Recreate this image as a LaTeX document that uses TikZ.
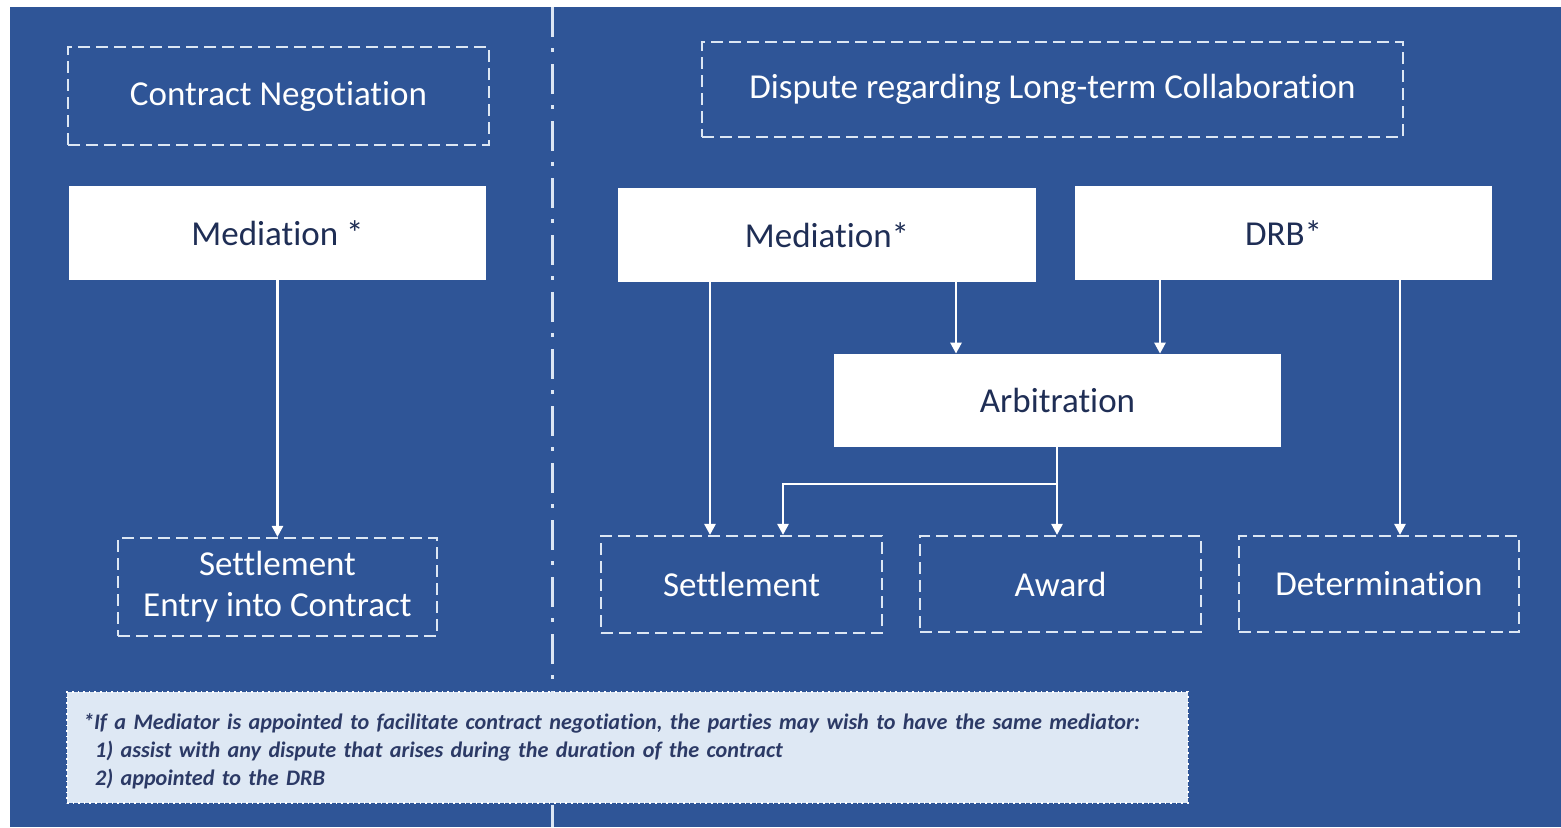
\documentclass[tikz,border=0pt]{standalone}
\usepackage{fontspec}
\setmainfont{Carlito}[Ligatures={NoCommon}]
\usetikzlibrary{arrows.meta}
\definecolor{panel}{HTML}{2F5597}
\definecolor{ink}{HTML}{1F2E55}
\definecolor{pale}{HTML}{DCE6F3}
\definecolor{notefill}{HTML}{DEE8F4}
\definecolor{noteink}{HTML}{2C3A66}

\begin{document}
\begin{tikzpicture}[x=0.5pt,y=-0.5pt,
    outcome/.style={draw=pale,dash pattern=on 6pt off 3pt,line width=1.1pt,text=white,
        font=\fontsize{17.5}{20.5}\selectfont,align=center,inner sep=0pt},
    stage/.style={fill=white,text=ink,font=\fontsize{17.5}{20.5}\selectfont,inner sep=0pt},
    flow/.style={white,line width=1.3pt,-{Triangle[length=5.5pt,width=5.5pt]}},
    note/.style={fill=notefill,draw=white,dotted,line width=0.8pt,text=noteink,align=left,
        font=\fontsize{11.1}{14}\selectfont\bfseries\itshape,inner xsep=8pt,inner ysep=0pt,
        text width=544.5pt,minimum height=55.5pt}]
    \useasboundingbox (0,0) rectangle (1561,827);
    \fill[white] (0,0) rectangle (1561,827);
    \fill[panel] (10,7) rectangle (1561,827);
    \draw[pale,line width=1.5pt,dash pattern=on 15pt off 5.5pt on 2pt off 6pt] (552,7) -- (552,827);

    \node[outcome,minimum width=210.5pt,minimum height=49pt] (neg) at (278.5,96) {Contract Negotiation};
    \node[stage,minimum width=208.5pt,minimum height=47pt] (medL) at (277.5,233) {Mediation *};
    \node[outcome,minimum width=159.5pt,minimum height=49pt] (setL) at (277.5,587) {Settlement\\Entry into Contract};

    \node[outcome,minimum width=350.5pt,minimum height=47.5pt] (dispute) at (1052.5,89.5) {Dispute regarding Long-term Collaboration};
    \node[stage,minimum width=209pt,minimum height=47pt] (medR) at (827,235) {Mediation*};
    \node[stage,minimum width=208.5pt,minimum height=47pt] (drb) at (1283.5,233) {DRB*};
    \node[stage,minimum width=223.5pt,minimum height=46.5pt] (arb) at (1057.5,400.5) {Arbitration};
    \node[outcome,minimum width=140.5pt,minimum height=48.5pt] (setR) at (741.5,584.5) {Settlement};
    \node[outcome,minimum width=140.5pt,minimum height=48pt] (award) at (1060.5,584) {Award};
    \node[outcome,minimum width=140pt,minimum height=48pt] (det) at (1379,584) {Determination};

    \draw[flow] (medL) -- (setL);
    \draw[flow] (medR.south -| 710,0) -- (setR.north -| 710,0);
    \draw[flow] (medR.south -| 956,0) -- (arb.north -| 956,0);
    \draw[flow] (drb.south -| 1160,0) -- (arb.north -| 1160,0);
    \draw[flow] (drb.south -| 1400,0) -- (det.north -| 1400,0);
    \draw[flow] (arb.south -| 1057,0) -- (award.north -| 1057,0);
    \draw[flow] (1057,484) -| (setR.north -| 783,0);

    \node[note] (fn) at (627.5,747.5) {\rule{0pt}{12pt}*If a Mediator is appointed to facilitate contract negotiation, the parties may wish to have the same mediator:\\
        \hspace*{6pt}1)\ assist with any dispute that arises during the duration of the contract\\
        \hspace*{6pt}2)\ appointed to the DRB};
\end{tikzpicture}
\end{document}
